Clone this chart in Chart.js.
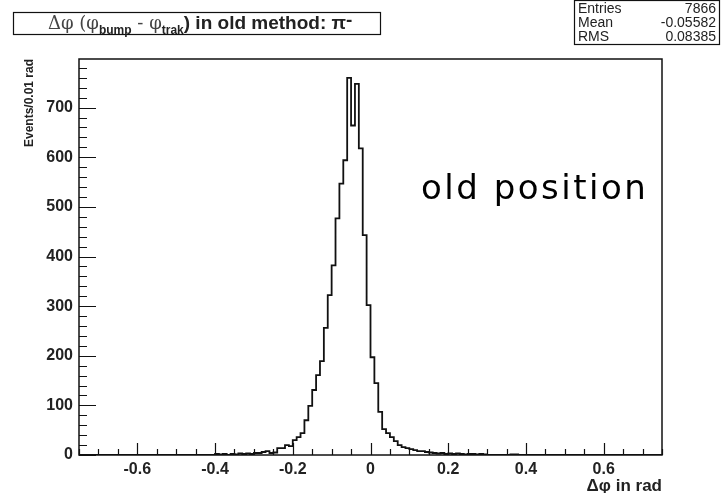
<!DOCTYPE html>
<html lang="en">
<head>
<meta charset="UTF-8">
<title>Delta phi, old method</title>
<script src="https://cdn.jsdelivr.net/npm/chart.js"></script>
<style>
  body { margin: 0; background: #fff; }
  #wrap { width: 721px; height: 493px; }
</style>
</head>
<body>
<div id="wrap"><canvas id="hist" width="721" height="493"></canvas></div>
<script>
// 150 bins of 0.01 rad between -0.75 and 0.75
const binLow = -0.75;
const binWidth = 0.01;
const counts = [
  0, 0, 0, 0, 0, 0, 0, 0, 0, 0,
  0, 0, 0, 0, 0, 0, 0, 0, 0, 0,
  0, 0, 0, 0, 0, 0, 0, 0, 0, 0,
  0, 0, 0, 0, 0, 2, 1, 2, 0, 2,
  1, 3, 2, 3, 2, 4, 4, 6, 8, 4,
  5, 14, 14, 20, 18, 30, 36, 44, 70, 99,
  131, 161, 189, 256, 322, 382, 477, 547, 594, 760,
  664, 748, 618, 443, 302, 197, 145, 87, 52, 44,
  36, 28, 20, 16, 14, 12, 10, 8, 8, 6,
  5, 4, 3, 4, 2, 3, 2, 3, 2, 1,
  2, 2, 1, 2, 1, 0, 0, 0, 0, 0,
  0, 1, 1, 0, 0, 0, 0, 0, 0, 0,
  0, 0, 0, 0, 0, 0, 0, 0, 0, 0,
  0, 0, 0, 0, 0, 0, 0, 0, 0, 0,
  0, 0, 0, 0, 0, 0, 0, 0, 0, 0
];

const xTickValues = [-0.6, -0.4, -0.2, 0, 0.2, 0.4, 0.6];
const xTickLabels = ['-0.6', '-0.4', '-0.2', '0', '0.2', '0.4', '0.6'];
const yTickValues = [0, 100, 200, 300, 400, 500, 600, 700];
const yTickLabels = ['0', '100', '200', '300', '400', '500', '600', '700'];
const xMinorStep = 0.05;
const yMinorStep = 20;

const statNames = ['Entries', 'Mean', 'RMS'];
const statValues = ['7866', '-0.05582', '0.08385'];

// bin edges -> stepped outline
const points = counts.map((c, i) => ({ x: +(binLow + i * binWidth).toFixed(2), y: c }));
points.push({ x: +(binLow + counts.length * binWidth).toFixed(2), y: counts[counts.length - 1] });

const ink = '#111';

function drawRuns(ctx, runs, x, y) {
  for (const r of runs) {
    ctx.font = r.font;
    ctx.fillStyle = r.color || '#222';
    ctx.fillText(r.t, x, y + (r.dy || 0));
    x += ctx.measureText(r.t).width;
  }
}

const decorations = {
  id: 'decorations',
  afterDraw(chart) {
    const ctx = chart.ctx;
    const xs = chart.scales.x, ys = chart.scales.y;
    const a = chart.chartArea;
    ctx.save();
    ctx.strokeStyle = ink;
    ctx.fillStyle = ink;

    // frame
    ctx.lineWidth = 1.5;
    ctx.strokeRect(a.left, a.top, a.right - a.left, a.bottom - a.top);

    // ticks drawn inward
    ctx.lineWidth = 1.2;
    ctx.beginPath();
    for (let v = xs.min; v <= xs.max + 1e-9; v += xMinorStep) {
      const px = Math.round(xs.getPixelForValue(v)) + 0.5;
      const major = xTickValues.some(t => Math.abs(t - v) < 1e-6);
      ctx.moveTo(px, a.bottom);
      ctx.lineTo(px, a.bottom - (major ? 12 : 6));
    }
    for (let v = 0; v <= ys.max; v += yMinorStep) {
      const py = Math.round(ys.getPixelForValue(v)) + 0.5;
      const major = v % 100 === 0;
      ctx.moveTo(a.left, py);
      ctx.lineTo(a.left + (major ? 17 : 8), py);
    }
    ctx.stroke();

    // title box
    ctx.lineWidth = 1.2;
    ctx.fillStyle = '#fff';
    ctx.fillRect(13, 12, 367, 22);
    ctx.strokeRect(13.5, 12.5, 367, 22);
    ctx.textBaseline = 'alphabetic';
    ctx.textAlign = 'left';
    const big = 'bold 19px "Liberation Sans"';
    const sym = '18px "DejaVu Serif"';
    const sub = 'bold 12px "Liberation Sans"';
    drawRuns(ctx, [
      { t: '\u0394\u03c6 (\u03c6', font: sym, color: '#444' },
      { t: 'bump', font: sub, dy: 5 },
      { t: ' - \u03c6', font: sym, color: '#444' },
      { t: 'trak', font: sub, dy: 5 },
      { t: ') in old method: \u03c0', font: big },
      { t: '-', font: big, dy: -3 }
    ], 48, 29);

    // stats box
    ctx.fillStyle = '#fff';
    ctx.fillRect(574, 0, 146, 44);
    ctx.strokeStyle = ink;
    ctx.strokeRect(574.5, 0.5, 145, 44);
    ctx.fillStyle = '#222';
    ctx.font = '14px "Liberation Sans"';
    statNames.forEach((n, i) => {
      const by = 13 + i * 14;
      ctx.textAlign = 'left';
      ctx.fillText(n, 578, by);
      ctx.textAlign = 'right';
      ctx.fillText(statValues[i], 716, by);
    });

    // annotation
    ctx.fillStyle = '#000';
    ctx.textAlign = 'left';
    ctx.font = '34px "DejaVu Sans"';
    ctx.letterSpacing = '2.5px';
    ctx.fillText('old position', 421, 199);
    ctx.restore();
  }
};

new Chart(document.getElementById('hist'), {
  type: 'line',
  data: {
    datasets: [{
      data: points,
      stepped: 'before',
      borderColor: ink,
      borderWidth: 1.8,
      pointRadius: 0,
      fill: false
    }]
  },
  options: {
    responsive: false,
    animation: false,
    layout: { padding: { top: 59, right: 59, left: 0, bottom: 0 } },
    plugins: { legend: { display: false }, tooltip: { enabled: false } },
    scales: {
      x: {
        type: 'linear',
        min: -0.75,
        max: 0.75,
        grid: { display: false, drawTicks: false },
        border: { display: false },
        afterBuildTicks: s => { s.ticks = xTickValues.map(v => ({ value: v })); },
        afterFit: s => { s.height = 38; },
        ticks: {
          autoSkip: false,
          maxRotation: 0,
          padding: 5,
          color: '#222',
          font: { family: 'Liberation Sans', size: 16, weight: 'bold' },
          callback: (v, i) => xTickLabels[i]
        },
        title: {
          display: true,
          align: 'end',
          text: '\u0394\u03c6 in rad',
          color: '#222',
          padding: 0,
          font: { family: 'Liberation Sans', size: 17, weight: 'bold', lineHeight: 0.8 }
        }
      },
      y: {
        min: 0,
        max: 798,
        grid: { display: false, drawTicks: false },
        border: { display: false },
        afterBuildTicks: s => { s.ticks = yTickValues.map(v => ({ value: v })); },
        afterFit: s => { s.width = 79; },
        ticks: {
          padding: 6,
          color: '#222',
          font: { family: 'Liberation Sans', size: 16, weight: 'bold' },
          callback: (v, i) => yTickLabels[i]
        },
        title: {
          display: true,
          align: 'end',
          text: 'Events/0.01 rad',
          color: '#222',
          padding: { top: 22, bottom: 0 },
          font: { family: 'Liberation Sans', size: 12, weight: 'bold' }
        }
      }
    }
  },
  plugins: [decorations]
});
</script>
</body>
</html>
